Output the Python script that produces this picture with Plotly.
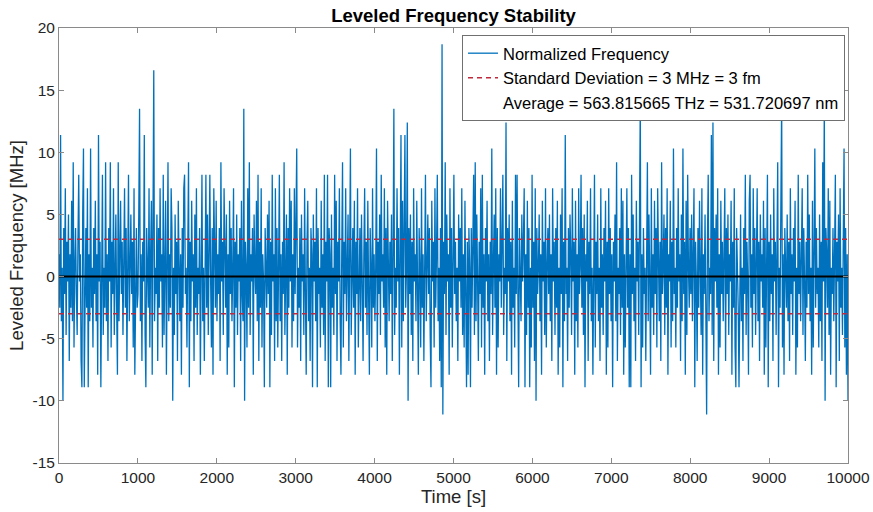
import numpy as np
import plotly.graph_objects as go

# Leveled frequency samples [MHz] (10 s spacing, 0..10000 s)
freq_mhz = [
    1.8,-2.5,11.4,-3.6,0.7,-10.0,3.9,-1.4,7.1,-4.7,2.8,-0.4,5.0,-6.8,1.8,-2.5,6.1,-3.6,9.2,-5.7,
    0.7,3.9,-1.4,-4.7,2.8,8.2,-0.4,1.8,-6.8,-8.9,5.0,10.3,-8.9,0.7,3.9,-2.5,7.1,-8.9,1.8,-3.6,
    10.3,-2.5,0.7,-5.7,3.9,-1.4,6.1,-3.6,1.8,-7.9,11.4,-0.4,2.8,-8.9,5.0,8.2,-4.7,0.7,-2.5,9.2,
    -3.6,1.8,-6.8,3.9,-0.4,9.2,-5.7,2.8,-1.4,7.1,-4.7,0.7,5.0,-2.5,-7.9,9.2,-3.6,1.8,6.1,-1.4,
    2.8,-4.7,0.7,7.1,-2.5,3.9,-6.8,1.8,8.2,-3.6,-0.4,5.0,-1.4,2.8,-5.7,7.1,-7.9,0.7,3.9,-2.5,
    -1.4,5.0,13.5,-3.6,1.8,-6.8,2.8,-0.4,11.4,-4.7,-8.9,3.9,0.7,-2.5,7.1,-5.7,1.8,6.1,-7.9,2.8,
    16.6,-3.6,0.7,-1.4,5.0,-6.8,3.9,-2.5,7.1,-0.4,1.8,-5.7,8.2,-4.7,2.8,6.1,-7.9,0.7,9.2,-3.6,
    1.8,-2.5,7.1,3.9,-10.0,0.7,-4.7,5.0,-1.4,2.8,-6.8,6.1,-0.4,-3.6,1.8,-7.9,3.9,-2.5,7.1,8.2,
    -1.4,0.7,-5.7,3.9,9.2,-8.9,2.8,-3.6,6.1,-0.4,1.8,-6.8,5.0,-2.5,7.1,-4.7,0.7,-1.4,3.9,-7.9,
    2.8,8.2,-3.6,0.7,-6.8,-1.4,8.2,-2.5,5.0,-4.7,1.8,8.2,-0.4,-5.7,3.9,-7.9,7.1,0.7,-2.5,6.1,
    -3.6,1.8,-1.4,3.9,-6.8,9.2,-0.4,2.8,-4.7,7.1,0.7,-2.5,5.0,-7.9,1.8,-5.7,6.1,-1.4,3.9,-3.6,
    0.7,7.1,-8.9,2.8,-2.5,5.0,-4.7,1.8,-0.4,3.9,-6.8,6.1,-1.4,-3.6,13.5,-10.0,2.8,0.7,-5.7,7.1,
    -2.5,9.2,-4.7,1.8,-0.4,3.9,-7.9,5.0,0.7,-1.4,6.1,-3.6,8.2,-6.8,2.8,-2.5,7.1,-5.7,1.8,-0.4,
    -8.9,3.9,0.7,-2.5,5.0,-1.4,6.1,-8.9,2.8,-4.7,8.2,-0.4,1.8,-6.8,7.1,-3.6,3.9,-5.7,0.7,8.2,
    -3.6,1.8,-6.8,2.8,-1.4,9.2,-4.7,0.7,5.0,-7.9,3.9,-2.5,7.1,-0.4,6.1,-5.7,1.8,-3.6,7.1,-1.4,
    2.8,10.3,-5.7,0.7,-2.5,3.9,-6.8,5.0,-0.4,1.8,-4.7,7.1,-1.4,-7.9,2.8,6.1,-3.6,0.7,-6.8,3.9,
    1.8,-8.9,5.0,-0.4,2.8,-3.6,7.1,-8.9,3.9,-1.4,0.7,-5.7,6.1,-2.5,1.8,-4.7,8.2,-6.8,2.8,-0.4,
    8.2,-8.9,3.9,1.8,-8.9,5.0,-2.5,0.7,-4.7,8.2,-1.4,6.1,-6.8,2.8,-0.4,7.1,-3.6,-7.9,1.8,9.2,
    -5.7,2.8,-1.4,7.1,-3.6,0.7,5.0,-6.8,1.8,10.3,-4.7,-0.4,3.9,-2.5,6.1,-7.9,2.8,-1.4,7.1,-5.7,
    0.7,3.9,-3.6,5.0,-0.4,-6.8,1.8,7.1,-2.5,2.8,-4.7,6.1,-1.4,-7.9,3.9,0.7,-5.7,7.1,-2.5,1.8,
    -3.6,0.7,10.3,-6.8,2.8,-1.4,5.0,-4.7,8.2,-0.4,1.8,-2.5,7.1,-5.7,3.9,-7.9,6.1,0.7,-3.6,2.8,
    -1.4,5.0,-6.8,1.8,13.5,-4.7,0.7,-2.5,7.1,-0.4,3.9,-7.9,2.8,11.4,-5.7,6.1,-3.6,1.8,11.4,-2.5,
    0.7,12.4,-10.0,3.9,-1.4,5.0,-4.7,2.8,-6.8,7.1,-0.4,1.8,-3.6,6.1,-2.5,-7.9,3.9,0.7,-5.7,7.1,
    -2.5,1.8,-6.8,2.8,8.2,-3.6,0.7,5.0,-1.4,3.9,-4.7,-8.9,6.1,-0.4,2.8,-5.7,7.1,-2.5,1.8,8.2,
    -3.6,0.7,-6.8,3.9,-8.9,18.7,-11.1,2.8,-1.4,9.2,-4.7,5.0,-0.4,1.8,-7.9,7.1,-2.5,3.9,-5.7,6.1,
    8.2,-1.4,2.8,-3.6,0.7,-6.8,5.0,-0.4,3.9,-2.5,7.1,-4.7,1.8,-5.7,6.1,-1.4,-8.9,2.8,-7.9,3.9,
    0.7,-8.9,3.9,-2.5,1.8,8.2,-4.7,9.2,-3.6,5.0,-0.4,-6.8,2.8,-1.4,7.1,-5.7,8.2,-2.5,1.8,-7.9,
    3.9,-0.4,6.1,-3.6,1.8,-6.8,2.8,-1.4,10.3,-4.7,0.7,5.0,-2.5,7.1,-7.9,3.9,-5.7,1.8,-0.4,7.1,
    -2.5,1.8,8.2,-4.7,0.7,-1.4,12.4,-6.8,3.9,-0.4,5.0,-3.6,2.8,-7.9,6.1,-2.5,0.7,-5.7,8.2,-1.4,
    8.2,-1.4,-8.9,3.9,0.7,-3.6,5.0,-0.4,2.8,7.1,-8.9,1.8,-4.7,6.1,-2.5,3.9,-8.9,0.7,-5.7,8.2,
    -2.5,2.8,-6.8,7.1,-10.0,3.9,-1.4,0.7,5.0,-3.6,1.8,-7.9,6.1,-0.4,2.8,-4.7,7.1,-5.7,0.7,3.9,
    -1.4,5.0,-3.6,1.8,-6.8,7.1,-0.4,2.8,-4.7,3.9,-2.5,6.1,-7.9,0.7,-5.7,5.0,-1.4,7.1,-8.9,2.8,
    -3.6,11.4,-1.4,0.7,-6.8,3.9,-2.5,5.0,1.8,-4.7,7.1,-0.4,2.8,-7.9,6.1,-3.6,1.8,-5.7,7.1,-1.4,
    0.7,8.2,-2.5,3.9,-4.7,5.0,-8.9,1.8,-0.4,6.1,-6.8,2.8,-1.4,7.1,-3.6,0.7,-7.9,3.9,8.2,-5.7,
    2.8,-1.4,5.0,-3.6,0.7,-6.8,7.1,-2.5,1.8,-4.7,3.9,-0.4,6.1,-7.9,2.8,-5.7,7.1,-1.4,3.9,-3.6,
    1.8,-8.9,2.8,-0.4,5.0,-3.6,9.2,-6.8,0.7,-1.4,3.9,-4.7,7.1,-2.5,6.1,-7.9,1.8,-5.7,2.8,7.1,
    -2.5,3.9,-8.9,1.8,-8.9,8.2,-1.4,5.0,-3.6,0.7,-6.8,6.1,-0.4,2.8,-4.7,7.1,14.2,-8.9,1.8,-5.7,
    3.9,-1.4,0.7,-6.8,2.8,9.2,-3.6,5.0,-0.4,-7.9,7.1,-2.5,1.8,-4.7,6.1,-1.4,3.9,-5.7,7.1,-0.4,
    -3.6,2.8,-6.8,9.2,-1.4,0.7,5.0,-4.7,3.9,-2.5,7.1,-7.9,1.8,-0.4,6.1,-5.7,2.8,-3.6,10.3,-1.4,
    0.7,-5.7,3.9,-2.5,7.1,-0.4,1.8,-6.8,5.0,-3.6,10.3,-1.4,2.8,-7.9,6.1,-4.7,8.2,0.7,-2.5,3.9,
    -1.4,5.0,-3.6,1.8,7.1,-8.9,2.8,-0.4,-6.8,3.9,-2.5,6.1,0.7,-4.7,7.1,-7.9,1.8,-1.4,5.0,-5.7,
    -11.1,2.8,8.2,-3.6,0.7,-1.4,11.4,-4.7,12.4,-6.8,3.9,-0.4,5.0,-2.5,7.1,-7.9,1.8,-5.7,6.1,-1.4,
    2.8,-3.6,0.7,7.1,-6.8,3.9,-1.4,5.0,-4.7,1.8,-0.4,6.1,-7.9,2.8,-2.5,7.1,-5.7,-8.9,3.9,0.7,
    -2.5,-8.9,1.8,5.0,-3.6,0.7,-6.8,3.9,-1.4,8.2,-4.7,2.8,-0.4,-7.9,6.1,8.2,-2.5,1.8,-5.7,7.1,
    -1.4,3.9,-4.7,0.7,7.1,-3.6,2.8,-6.8,5.0,-0.4,1.8,-2.5,6.1,-7.9,3.9,-5.7,0.7,8.2,-8.9,2.8,
    -3.6,5.0,-1.4,1.8,-6.8,7.1,-0.4,2.8,-4.7,3.9,9.2,-8.9,0.7,-2.5,6.1,14.2,-5.7,1.8,-7.9,3.9,
    0.7,-2.5,5.0,-3.6,2.8,-6.8,7.1,-1.4,1.8,-4.7,3.9,-0.4,6.1,-7.9,0.7,-5.7,8.2,-1.4,2.8,-3.6,
    1.8,7.1,-4.7,3.9,-0.4,-6.8,2.8,-2.5,8.2,-1.4,5.0,-3.6,0.7,-7.9,6.1,-5.7,1.8,10.3,-2.5,3.9,
    -1.4,0.7,-5.7,5.0,-3.6,2.8,-6.8,9.2,-0.4,14.2,-10.0,3.9,1.8,-2.5,7.1,-4.7,6.1,-7.9,0.7,-1.4,
    3.9,-3.6,1.8,8.2,-8.9,2.8,-0.4,5.0,-6.8,7.1,-2.5,0.7,-4.7,6.1,10.3,-5.7,3.9,-7.9,1.8,-10.0,
]
t_start, t_end = 0, 10000          # time span [s]
std_mhz = 3                        # standard deviation [MHz]
avg_level = 0                      # leveled average
x_ticks = list(range(0, 10001, 1000))
x_ticktext = [str(v) for v in x_ticks]
y_ticks = [-15, -10, -5, 0, 5, 10, 15, 20]
y_ticktext = [str(v) for v in y_ticks]

time_s = np.linspace(t_start, t_end, len(freq_mhz))
span = [t_start, t_end]

FONT = "Liberation Sans, Arial, sans-serif"

fig = go.Figure()
fig.add_trace(go.Scatter(x=time_s, y=freq_mhz, mode="lines",
                         line=dict(color="#0072BD", width=1.3),
                         name="Normalized Frequency"))
fig.add_trace(go.Scatter(x=span, y=[std_mhz, std_mhz], mode="lines",
                         line=dict(color="#C0283C", width=1.5, dash="5px,4px"),
                         name="Standard Deviation = 3 MHz = 3 fm"))
fig.add_trace(go.Scatter(x=span, y=[-std_mhz, -std_mhz], mode="lines",
                         line=dict(color="#C0283C", width=1.5, dash="5px,4px"),
                         showlegend=False))
fig.add_trace(go.Scatter(x=span, y=[avg_level, avg_level], mode="lines",
                         line=dict(color="black", width=2), showlegend=False))
fig.add_trace(go.Scatter(x=[None], y=[None], mode="lines",
                         line=dict(color="rgba(0,0,0,0)", width=1),
                         name="Average = 563.815665 THz = 531.720697 nm"))

axis_common = dict(showline=True, linecolor="#8a8a8a", linewidth=1, mirror="ticks",
                   ticks="inside", ticklen=5, tickcolor="#8a8a8a",
                   showgrid=False, zeroline=False, automargin=False,
                   tickfont=dict(family=FONT, size=15.5, color="#262626"))

fig.update_layout(
    width=873, height=512,
    margin=dict(l=59, r=25, t=28, b=49),
    paper_bgcolor="white", plot_bgcolor="white",
    title=dict(text="<b>Leveled Frequency Stability</b>", x=0.5, xref="paper",
               y=1 - 16 / 512, yref="container", yanchor="middle", xanchor="center",
               font=dict(family=FONT, size=18.5, color="black")),
    xaxis=dict(range=[t_start, t_end], tickvals=x_ticks, ticktext=x_ticktext,
               title=dict(text="Time [s]", font=dict(family=FONT, size=18.5, color="#262626"),
                          standoff=2), **axis_common),
    yaxis=dict(range=[-15, 20], tickvals=y_ticks, ticktext=y_ticktext,
               title=dict(text="Leveled Frequency [MHz]",
                          font=dict(family=FONT, size=18.5, color="#262626"), standoff=4),
               **axis_common),
    legend=dict(x=0.9962, y=0.984, xanchor="right", yanchor="top",
                bgcolor="white", bordercolor="#707070", borderwidth=1,
                font=dict(family=FONT, size=16.5, color="black"),
                itemwidth=30, tracegroupgap=0),
    showlegend=True,
)

fig.write_html("out.html", config={"displayModeBar": False},
               post_script="document.body.style.margin='0px';")
